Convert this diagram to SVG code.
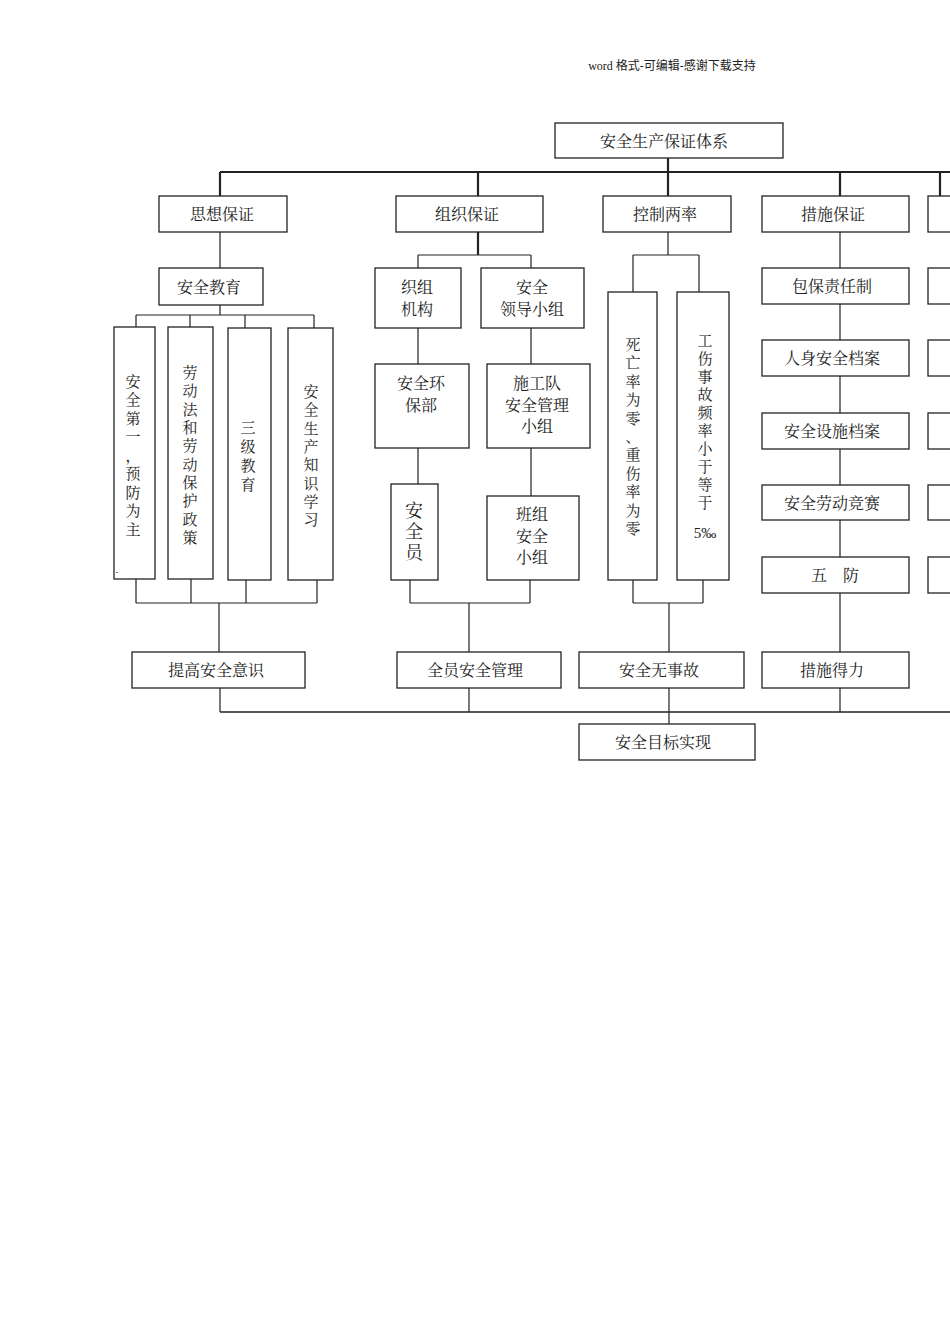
<svg xmlns="http://www.w3.org/2000/svg" width="950" height="1344" viewBox="0 0 950 1344">
<style>
rect{fill:#fff;stroke:#222;stroke-width:1.3}
.c path{fill:none;stroke:#222;stroke-width:1.2}
.c .t{stroke-width:2.2}
text{font-family:"Noto Serif CJK SC","Noto Sans CJK SC","Liberation Serif",serif;font-size:16px;fill:#222;text-anchor:middle}
.v text{font-size:15px}
</style>
<rect x="0" y="0" width="950" height="1344" style="fill:#fff;stroke:none"/>
<text x="672" y="70" style="font-size:12px;font-family:'Liberation Serif','Noto Sans CJK SC',serif">word 格式-可编辑-感谢下载支持</text>
<g class="c" id="connectors">
<path class="t" d="M220 172H950M478 172V196M220 172V196M668 158V196M840 172V196M940 172V196"/>
<path d="M220 232V268M220 305V315M136 315H314M136 315V327M190 315V327M245 315V328M314 315V328"/>
<path d="M136 579V603M191 579V603M246 580V603M317 580V603M136 603H317M219 603V652"/>
<path class="t" d="M478 232V255"/>
<path d="M418 255H531M418 255V268M531 255V268M418 328V364M418 448V484M531 328V364M531 448V496"/>
<path d="M410 580V603M530 580V603M410 603H530M469 603V652"/>
<path d="M668 232V255M633 255H699M633 255V292M699 255V292M633 580V603M703 580V603M633 603H703M669 603V652"/>
<path d="M840 232V268M840 304V340M840 376V413M840 449V485M840 520V557M840 593V652"/>
<path class="t" d="M220 712H950" style="stroke-width:1.5"/>
<path d="M220 688V712M469 688V712M669 688V724M840 688V712"/>
</g>
<g id="n0"><rect x="555" y="123" width="228" height="35"/><text x="664" y="147">安全生产保证体系</text></g>
<g id="n1"><rect x="159" y="196" width="128" height="36"/><text x="222" y="220">思想保证</text></g>
<g id="n2"><rect x="396" y="196" width="147" height="36"/><text x="467" y="220">组织保证</text></g>
<g id="n3"><rect x="603" y="196" width="128" height="36"/><text x="665" y="220">控制两率</text></g>
<g id="n4"><rect x="762" y="196" width="147" height="36"/><text x="833" y="220">措施保证</text></g>
<g id="n5"><rect x="159" y="268" width="104" height="37"/><text x="209" y="293">安全教育</text></g>
<g id="n6" class="v"><rect x="114" y="327" width="41" height="252"/>
<text x="133" y="387">安</text><text x="133" y="405">全</text><text x="133" y="424">第</text><text x="133" y="442">一</text><text x="133" y="461">，</text><text x="133" y="479">预</text><text x="133" y="498">防</text><text x="133" y="516">为</text><text x="133" y="535">主</text><text x="117" y="573" style="font-size:10px">.</text></g>
<g id="n7" class="v"><rect x="168" y="327" width="45" height="252"/>
<text x="190" y="378">劳</text><text x="190" y="396">动</text><text x="190" y="415">法</text><text x="190" y="433">和</text><text x="190" y="451">劳</text><text x="190" y="470">动</text><text x="190" y="488">保</text><text x="190" y="506">护</text><text x="190" y="525">政</text><text x="190" y="543">策</text></g>
<g id="n8" class="v"><rect x="228" y="328" width="43" height="252"/>
<text x="248" y="433">三</text><text x="248" y="452">级</text><text x="248" y="471">教</text><text x="248" y="490">育</text></g>
<g id="n9" class="v"><rect x="288" y="328" width="45" height="252"/>
<text x="311" y="397">安</text><text x="311" y="415">全</text><text x="311" y="434">生</text><text x="311" y="452">产</text><text x="311" y="470">知</text><text x="311" y="489">识</text><text x="311" y="507">学</text><text x="311" y="525">习</text></g>
<g id="n10"><rect x="375" y="268" width="86" height="60"/><text x="417" y="293">织组</text><text x="417" y="315">机构</text></g>
<g id="n11"><rect x="481" y="268" width="103" height="60"/><text x="532" y="293">安全</text><text x="532" y="315">领导小组</text></g>
<g id="n12"><rect x="375" y="364" width="94" height="84"/><text x="421" y="389">安全环</text><text x="421" y="411">保部</text></g>
<g id="n13"><rect x="487" y="364" width="103" height="84"/><text x="537" y="389">施工队</text><text x="537" y="411">安全管理</text><text x="537" y="432">小组</text></g>
<g id="n14"><rect x="391" y="484" width="47" height="96"/><text x="414" y="517" style="font-size:18px">安</text><text x="414" y="538" style="font-size:18px">全</text><text x="414" y="559" style="font-size:18px">员</text></g>
<g id="n15"><rect x="487" y="496" width="92" height="84"/><text x="532" y="520">班组</text><text x="532" y="542">安全</text><text x="532" y="563">小组</text></g>
<g id="n16" class="v"><rect x="608" y="292" width="49" height="288"/>
<text x="633" y="350">死</text><text x="633" y="368">亡</text><text x="633" y="387">率</text><text x="633" y="405">为</text><text x="633" y="424">零</text><text x="633" y="442">、</text><text x="633" y="460">重</text><text x="633" y="479">伤</text><text x="633" y="497">率</text><text x="633" y="516">为</text><text x="633" y="534">零</text></g>
<g id="n17" class="v"><rect x="677" y="292" width="52" height="288"/>
<text x="705" y="346">工</text><text x="705" y="364">伤</text><text x="705" y="382">事</text><text x="705" y="400">故</text><text x="705" y="418">频</text><text x="705" y="436">率</text><text x="705" y="454">小</text><text x="705" y="472">于</text><text x="705" y="490">等</text><text x="705" y="508">于</text><text x="705" y="538" style="font-family:'Liberation Serif',serif">5‰</text></g>
<g id="n18"><rect x="762" y="268" width="147" height="36"/><text x="832" y="292">包保责任制</text></g>
<g id="n19"><rect x="762" y="340" width="147" height="36"/><text x="832" y="364">人身安全档案</text></g>
<g id="n20"><rect x="762" y="413" width="147" height="36"/><text x="832" y="437">安全设施档案</text></g>
<g id="n21"><rect x="762" y="485" width="147" height="35"/><text x="832" y="509">安全劳动竞赛</text></g>
<g id="n22"><rect x="762" y="557" width="147" height="36"/><text x="835" y="581">五　防</text></g>
<g id="r1"><rect x="928" y="196" width="40" height="36"/></g>
<g id="r2"><rect x="928" y="268" width="40" height="36"/></g>
<g id="r3"><rect x="928" y="340" width="40" height="36"/></g>
<g id="r4"><rect x="928" y="413" width="40" height="36"/></g>
<g id="r5"><rect x="928" y="485" width="40" height="35"/></g>
<g id="r6"><rect x="928" y="557" width="40" height="36"/></g>
<g id="n23"><rect x="132" y="652" width="173" height="36"/><text x="216" y="676">提高安全意识</text></g>
<g id="n24"><rect x="397" y="652" width="164" height="36"/><text x="475" y="676">全员安全管理</text></g>
<g id="n25"><rect x="579" y="652" width="165" height="36"/><text x="659" y="676">安全无事故</text></g>
<g id="n26"><rect x="762" y="652" width="147" height="36"/><text x="832" y="676">措施得力</text></g>
<g id="n27"><rect x="579" y="724" width="176" height="36"/><text x="663" y="748">安全目标实现</text></g>
</svg>
